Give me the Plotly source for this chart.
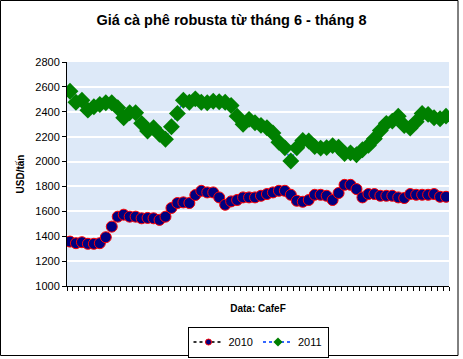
import plotly.graph_objects as go

days = list(range(1, 65))

price_2010 = [1357, 1344, 1352, 1339, 1339, 1344, 1392, 1477, 1557, 1573, 1557, 1557, 1544, 1547, 1544, 1531,
              1557, 1627, 1667, 1672, 1667, 1731, 1765, 1752, 1752, 1712, 1653, 1680, 1691, 1712, 1712, 1712,
              1725, 1739, 1752, 1765, 1765, 1733, 1685, 1677, 1691, 1733, 1733, 1725, 1691, 1747, 1813, 1813,
              1779, 1712, 1739, 1739, 1725, 1725, 1725, 1712, 1707, 1739, 1733, 1733, 1733, 1739, 1717, 1717]

price_2011 = [2565, 2477, 2493, 2413, 2440, 2459, 2472, 2472, 2432, 2352, 2392, 2392, 2307, 2245, 2272, 2219,
              2179, 2280, 2387, 2493, 2477, 2504, 2477, 2472, 2485, 2480, 2477, 2451, 2365, 2299, 2339, 2312,
              2291, 2272, 2230, 2155, 2110, 2005, 2110, 2170, 2165, 2120, 2108, 2112, 2128, 2115, 2065, 2070,
              2055, 2095, 2130, 2184, 2250, 2307, 2325, 2365, 2290, 2270, 2320, 2387, 2379, 2352, 2344, 2365]

y_ticks = [1000, 1200, 1400, 1600, 1800, 2000, 2200, 2400, 2600, 2800]

title_text = "Giá cà phê robusta từ tháng 6 - tháng 8"
y_title = "USD/tấn"
x_title = "Data: CafeF"

fig = go.Figure()

fig.add_trace(go.Scatter(
    x=days, y=price_2010, mode="lines+markers", name="2010", showlegend=False,
    line=dict(color="#555555", width=1, dash="dot"),
    marker=dict(symbol="circle", size=11, color="#000080", line=dict(color="#ff0000", width=1)),
))
fig.add_trace(go.Scatter(
    x=days, y=price_2011, mode="lines+markers", name="2011", showlegend=False,
    line=dict(color="#3366ff", width=1.5, dash="dot"),
    marker=dict(symbol="diamond", size=13, color="#008000", line=dict(color="#008000", width=0)),
))
# legend entries (small symbols as in the original legend)
fig.add_trace(go.Scatter(
    x=[None], y=[None], mode="lines+markers", name="2010",
    line=dict(color="#333333", width=2, dash="dot"),
    marker=dict(symbol="circle", size=6, color="#000080", line=dict(color="#ff0000", width=1)),
))
fig.add_trace(go.Scatter(
    x=[None], y=[None], mode="lines+markers", name="2011",
    line=dict(color="#3366ff", width=2, dash="dot"),
    marker=dict(symbol="diamond", size=7, color="#008000"),
))

fig.update_layout(
    width=463, height=359,
    margin=dict(l=67, r=14, t=62, b=73, autoexpand=False),
    paper_bgcolor="white",
    plot_bgcolor="#dde9f8",
    font=dict(family="Arial, Liberation Sans, sans-serif", size=11, color="black"),
    title=dict(text="<b>" + title_text + "</b>", x=0.5, xanchor="center", y=0.945, yanchor="middle",
               font=dict(size=14.5)),
    showlegend=True,
    legend=dict(orientation="h", x=0.5, xanchor="center", y=-0.181, yanchor="top",
                bordercolor="black", borderwidth=1, bgcolor="white",
                font=dict(size=11), itemwidth=30, tracegroupgap=0),
    shapes=[dict(type="rect", xref="paper", yref="paper",
                 x0=(0.5 - 67) / 382, x1=(458 - 67) / 382,
                 y0=(286 - 355.5) / 224, y1=(286 - 0.5) / 224,
                 line=dict(color="black", width=1), layer="below")],
)

fig.update_xaxes(
    range=[0.5, 64.5], showgrid=False, zeroline=False, automargin=False,
    showline=True, linecolor="black", linewidth=1,
    tickmode="array", tickvals=[d + 0.5 for d in [0] + days], ticks="outside", ticklen=4,
    tickcolor="black", showticklabels=False,
    title=dict(text="<b>" + x_title + "</b>", font=dict(size=10), standoff=14),
)
fig.update_yaxes(
    range=[1000, 2800], tickmode="array", tickvals=y_ticks, showgrid=True, gridcolor="white", gridwidth=1.5,
    zeroline=False, automargin=False, showline=True, linecolor="black", linewidth=1, ticks="outside", ticklen=4,
    tickcolor="black", tickfont=dict(size=11),
    title=dict(text="<b>" + y_title + "</b>", font=dict(size=10), standoff=8),
)

fig.write_html("out.html", config={"displayModeBar": False},
               post_script="document.body.style.margin='0';document.body.style.overflow='hidden';")
